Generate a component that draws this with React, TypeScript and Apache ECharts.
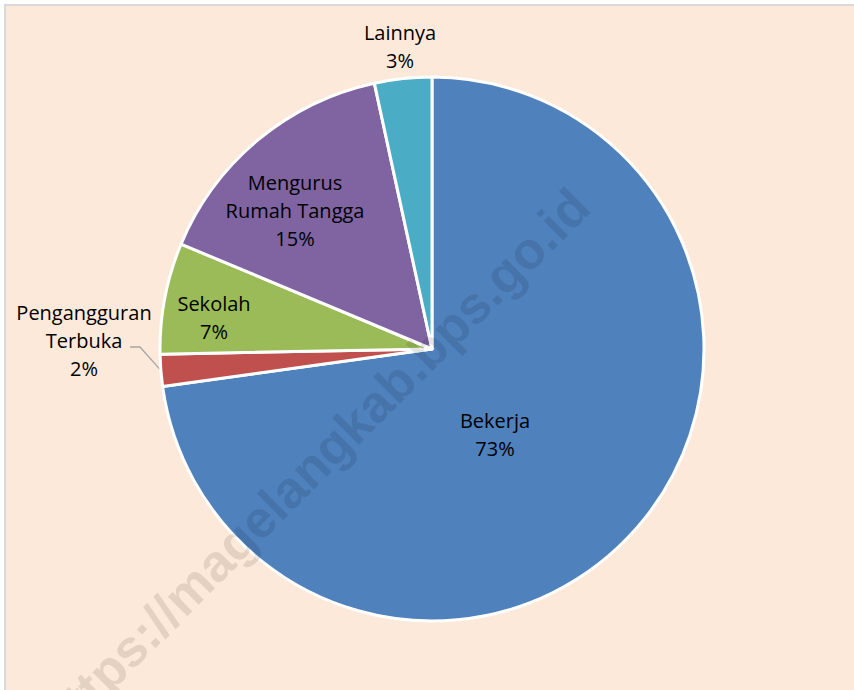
import React, { useEffect, useRef } from "react";
import * as echarts from "echarts";

const categories = ["Bekerja", "Pengangguran\nTerbuka", "Sekolah", "Mengurus\nRumah Tangga", "Lainnya"];
const shares = [72.8, 1.9, 6.6, 15.3, 3.4];
const colors = ["#4F81BD", "#C0504D", "#9BBB59", "#8064A2", "#4BACC6"];
const watermarkText = "https://magelangkab.bps.go.id";

// label block centres relative to the pie centre (px)
const LABEL_OFFSETS: [number, number][] = [
  [63, 85],
  [-348, -9],
  [-218, -32],
  [-137, -139],
  [-32, -303],
];

const CENTER: [number, number] = [432, 349];
const RADIUS = 272;

export default function App() {
  const ref = useRef<HTMLDivElement>(null);

  useEffect(() => {
    if (!ref.current) return;
    const chart = echarts.init(ref.current, null, { renderer: "svg" });
    const total = shares.reduce((a, b) => a + b, 0);
    const data = categories.map((name, i) => ({
      name,
      value: shares[i],
      itemStyle: { color: colors[i] },
      labelLine: { show: i === 1 },
    }));
    chart.setOption({
      animation: false,
      backgroundColor: "transparent",
      series: [
        {
          type: "pie",
          center: CENTER,
          radius: RADIUS,
          startAngle: 90,
          clockwise: true,
          avoidLabelOverlap: false,
          itemStyle: { borderColor: "#FFFFFF", borderWidth: 3 },
          label: {
            show: true,
            position: "outside",
            formatter: (p: any) => `${p.name}\n${Math.round(p.percent)}%`,
            fontFamily: "Open Sans",
            fontSize: 20,
            lineHeight: 28,
            color: "#000000",
            align: "center",
          },
          labelLine: {
            show: false,
            length: 12,
            length2: 10,
            lineStyle: { color: "#A6A6A6", width: 1.3 },
          },
          labelLayout: (params: any) => {
            const i = params.dataIndex;
            const off = LABEL_OFFSETS[i];
            const lx = CENTER[0] + off[0];
            const ly = CENTER[1] + off[1];
            const out: any = { x: lx, y: ly, align: "center", verticalAlign: "middle" };
            if (i === 1) {
              // anchor on the slice's outer edge at its mid angle
              let before = 0;
              for (let k = 0; k < i; k++) before += shares[k];
              const mid = ((before + shares[i] / 2) / total) * Math.PI * 2;
              const ax = CENTER[0] + RADIUS * Math.sin(mid);
              const ay = CENTER[1] - RADIUS * Math.cos(mid);
              out.labelLinePoints = [
                [ax, ay],
                [lx + 56, ly + 7],
                [lx + 46, ly + 7],
              ];
            }
            return out;
          },
          data,
        },
      ],
      graphic: [
        {
          type: "text",
          x: 315,
          y: 463,
          rotation: Math.PI / 4,
          z: 100,
          silent: true,
          style: {
            text: watermarkText,
            fontFamily: "Liberation Sans",
            fontWeight: "bold",
            fontSize: 52,
            fill: "rgba(0,0,0,0.1)",
            textAlign: "center",
            textVerticalAlign: "middle",
          },
        },
      ],
    });
    return () => chart.dispose();
  }, []);

  return (
    <div style={{ position: "fixed", left: 0, top: 0, width: 854, height: 690, background: "#FFFFFF", overflow: "hidden" }}>
      <div
        style={{
          position: "absolute",
          left: 4,
          top: 4,
          right: -4,
          bottom: -4,
          background: "#FDE9D9",
          borderTop: "2px solid #D9D9D9",
          borderLeft: "2px solid #D9D9D9",
        }}
      />
      <div ref={ref} style={{ position: "absolute", left: 0, top: 0, width: 854, height: 690 }} />
    </div>
  );
}
